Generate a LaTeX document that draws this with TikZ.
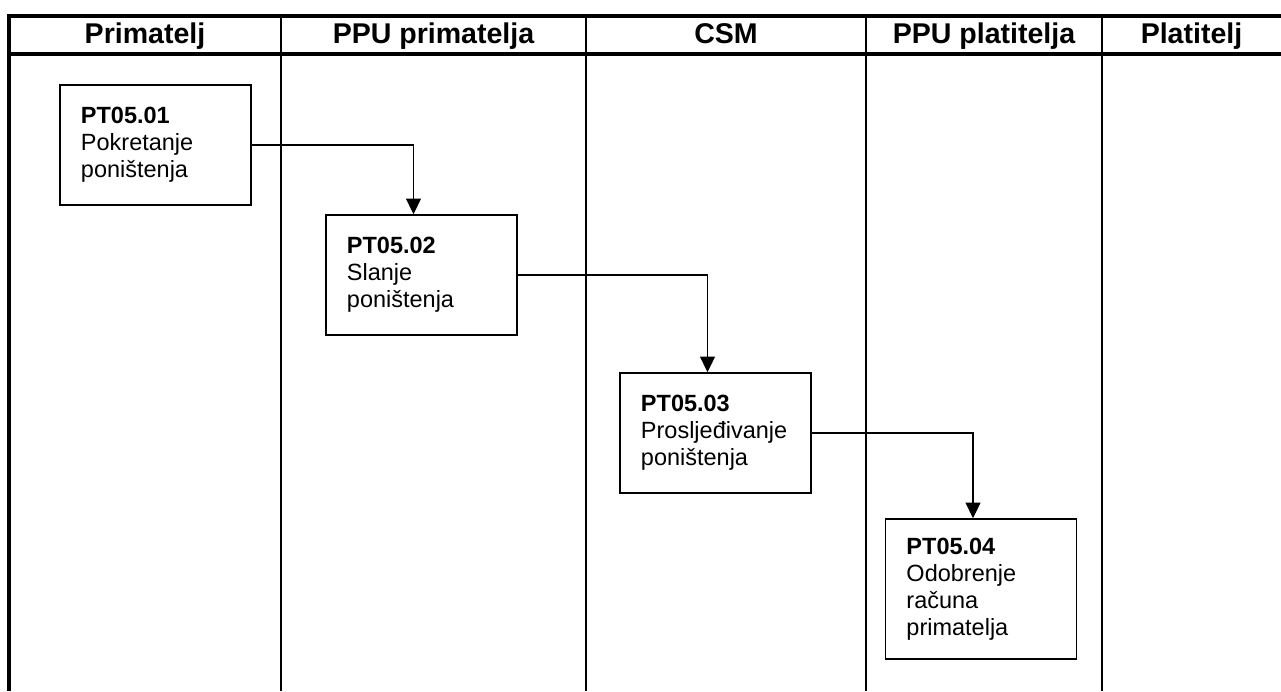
\documentclass[tikz,border=0pt]{standalone}
\usepackage{fontspec}
\setmainfont{Liberation Sans}
\usetikzlibrary{arrows.meta}

\tikzset{
  korak/.style={draw, line width=1.1pt, align=left, text width=3.725cm,
    inner xsep=0.525cm, minimum height=3cm,
    font=\fontsize{16.7}{19.2}\selectfont},
  tok/.style={line width=1pt, -{Triangle[length=11pt, width=10.5pt]}},
  naslov/.style={anchor=base, font=\fontsize{20.3}{23}\selectfont\bfseries},
  rub/.style={line width=2.5pt},
  staza/.style={line width=1.5pt}
}

\begin{document}
\begin{tikzpicture}[x=0.025cm, y=-0.025cm]
\useasboundingbox (0,0) rectangle (1281,691);

% Zaglavlje
\draw[rub] (9,691) -- (9,16) -- (1281,16);
\draw[rub] (9,54) -- (1281,54);
\foreach \xs in {281,586,866,1102}
  \draw[staza] (\xs,16) -- (\xs,691);

\node[naslov] (h1) at (145,43) {Primatelj};
\node[naslov] (h2) at (433.5,43) {PPU primatelja};
\node[naslov] (h3) at (726,43) {CSM};
\node[naslov] (h4) at (984,43) {PPU platitelja};
\node[naslov] (h5) at (1191.5,43) {Platitelj};

% Koraci
\node[korak] (pt1) at (155.5,145) {\textbf{PT05.01}\\Pokretanje\\poništenja};
\node[korak] (pt2) at (421.5,275) {\textbf{PT05.02}\\Slanje\\poništenja};
\node[korak] (pt3) at (715.5,433) {\textbf{PT05.03}\\Prosljeđivanje\\poništenja};
\node[korak, minimum height=3.5cm] (pt4) at (981,589) {\textbf{PT05.04}\\Odobrenje\\računa\\primatelja};

% Tok
\draw[tok] (pt1.east) -| ([xshift=-0.2cm]pt2.north);
\draw[tok] (pt2.east) -| ([xshift=-0.2cm]pt3.north);
\draw[tok] (pt3.east) -| ([xshift=-0.2cm]pt4.north);

\end{tikzpicture}
\end{document}
